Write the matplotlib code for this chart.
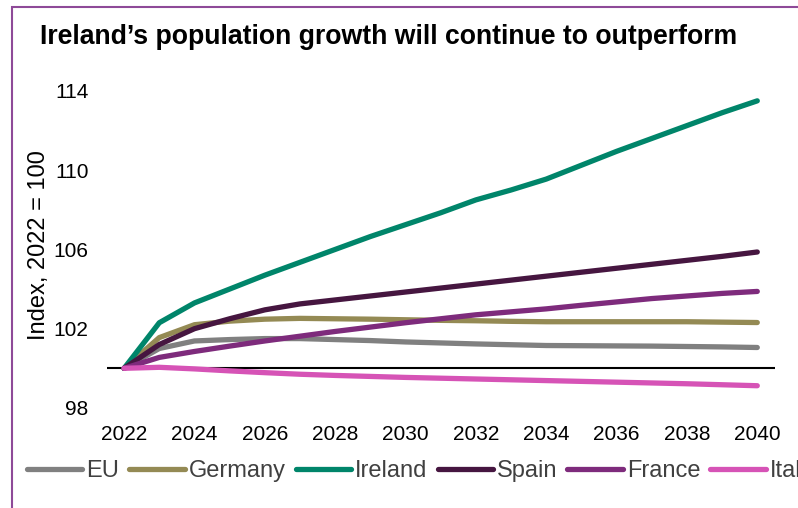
import matplotlib.pyplot as plt
from matplotlib.patches import Rectangle

plt.rcParams['font.family'] = ['Liberation Sans', 'DejaVu Sans']

# Data (index, 2022 = 100)
tahun = list(range(2022, 2041))
eu = [100, 101.0, 101.38, 101.45, 101.5, 101.5, 101.45, 101.4, 101.33, 101.28,
      101.23, 101.19, 101.15, 101.14, 101.13, 101.12, 101.1, 101.08, 101.05]
germany = [100, 101.55, 102.2, 102.38, 102.48, 102.52, 102.5, 102.48, 102.45, 102.42,
           102.4, 102.37, 102.35, 102.35, 102.35, 102.35, 102.35, 102.33, 102.31]
ireland = [100, 102.3, 103.3, 104.0, 104.7, 105.35, 106.0, 106.65, 107.25, 107.85,
           108.5, 109.0, 109.55, 110.25, 110.95, 111.6, 112.25, 112.9, 113.5]
spain = [100, 101.2, 102.0, 102.5, 102.95, 103.25, 103.45, 103.65, 103.85, 104.05,
         104.25, 104.45, 104.65, 104.85, 105.05, 105.25, 105.45, 105.65, 105.87]
france = [100, 100.55, 100.85, 101.12, 101.38, 101.62, 101.86, 102.08, 102.3, 102.5,
          102.7, 102.85, 103.0, 103.18, 103.35, 103.52, 103.65, 103.78, 103.88]
italy = [100, 100.05, 99.97, 99.87, 99.78, 99.7, 99.64, 99.59, 99.54, 99.5,
         99.46, 99.42, 99.38, 99.34, 99.3, 99.26, 99.22, 99.17, 99.12]

seri = [
    ('EU', eu, '#808080'),
    ('Germany', germany, '#948A54'),
    ('Ireland', ireland, '#00856A'),
    ('Spain', spain, '#461640'),
    ('France', france, '#7E2B7C'),
    ('Italy', italy, '#D653B6'),
]

fig = plt.figure(figsize=(7.98, 5.08), dpi=100)
ax = fig.add_axes([0.1335, 0.197, 0.971 - 0.1335, 0.821 - 0.197])

# Garis referensi 100
ax.axhline(100, color='black', lw=1.5, zorder=1)

for nama, nilai, warna in seri:
    ax.plot(tahun, nilai, color=warna, lw=3.8, solid_capstyle='round',
            solid_joinstyle='round', label=nama, zorder=2)

ax.set_xlim(2021.5, 2040.5)
ax.set_ylim(98, 114)
ax.set_yticks([98, 102, 106, 110, 114])
ax.set_xticks(list(range(2022, 2041, 2)))
ax.tick_params(axis='both', length=0, labelsize=15, colors='black')
ax.tick_params(axis='y', pad=13)
ax.tick_params(axis='x', pad=12)
for s in ax.spines.values():
    s.set_visible(False)

# Judul dan label sumbu
fig.text(40 / 798, 1 - 44 / 508, 'Ireland\u2019s population growth will continue to outperform',
         fontsize=19.2, fontweight='bold', va='baseline', ha='left')
fig.text(39 / 798, 1 - 245 / 508, 'Index, 2022 = 100', rotation=90,
         fontsize=17, va='center', ha='center')

# Legenda (terpotong di tepi kanan seperti aslinya)
leg = fig.legend(loc='center left', bbox_to_anchor=(27 / 798, 1 - 471 / 508), ncol=6,
                 frameon=False, fontsize=17, handlelength=2.35, handletextpad=0.17,
                 columnspacing=0.42, borderaxespad=0, borderpad=0)
for t in leg.get_texts():
    t.set_color('#404040')

# Bingkai ungu
fig.patches.append(Rectangle((12 / 798, -0.1), 1.2, 1 - 7 / 508 + 0.1,
                             transform=fig.transFigure, fill=False,
                             edgecolor='#8E4A98', lw=1.5))

fig.savefig('out.png', dpi=100)
